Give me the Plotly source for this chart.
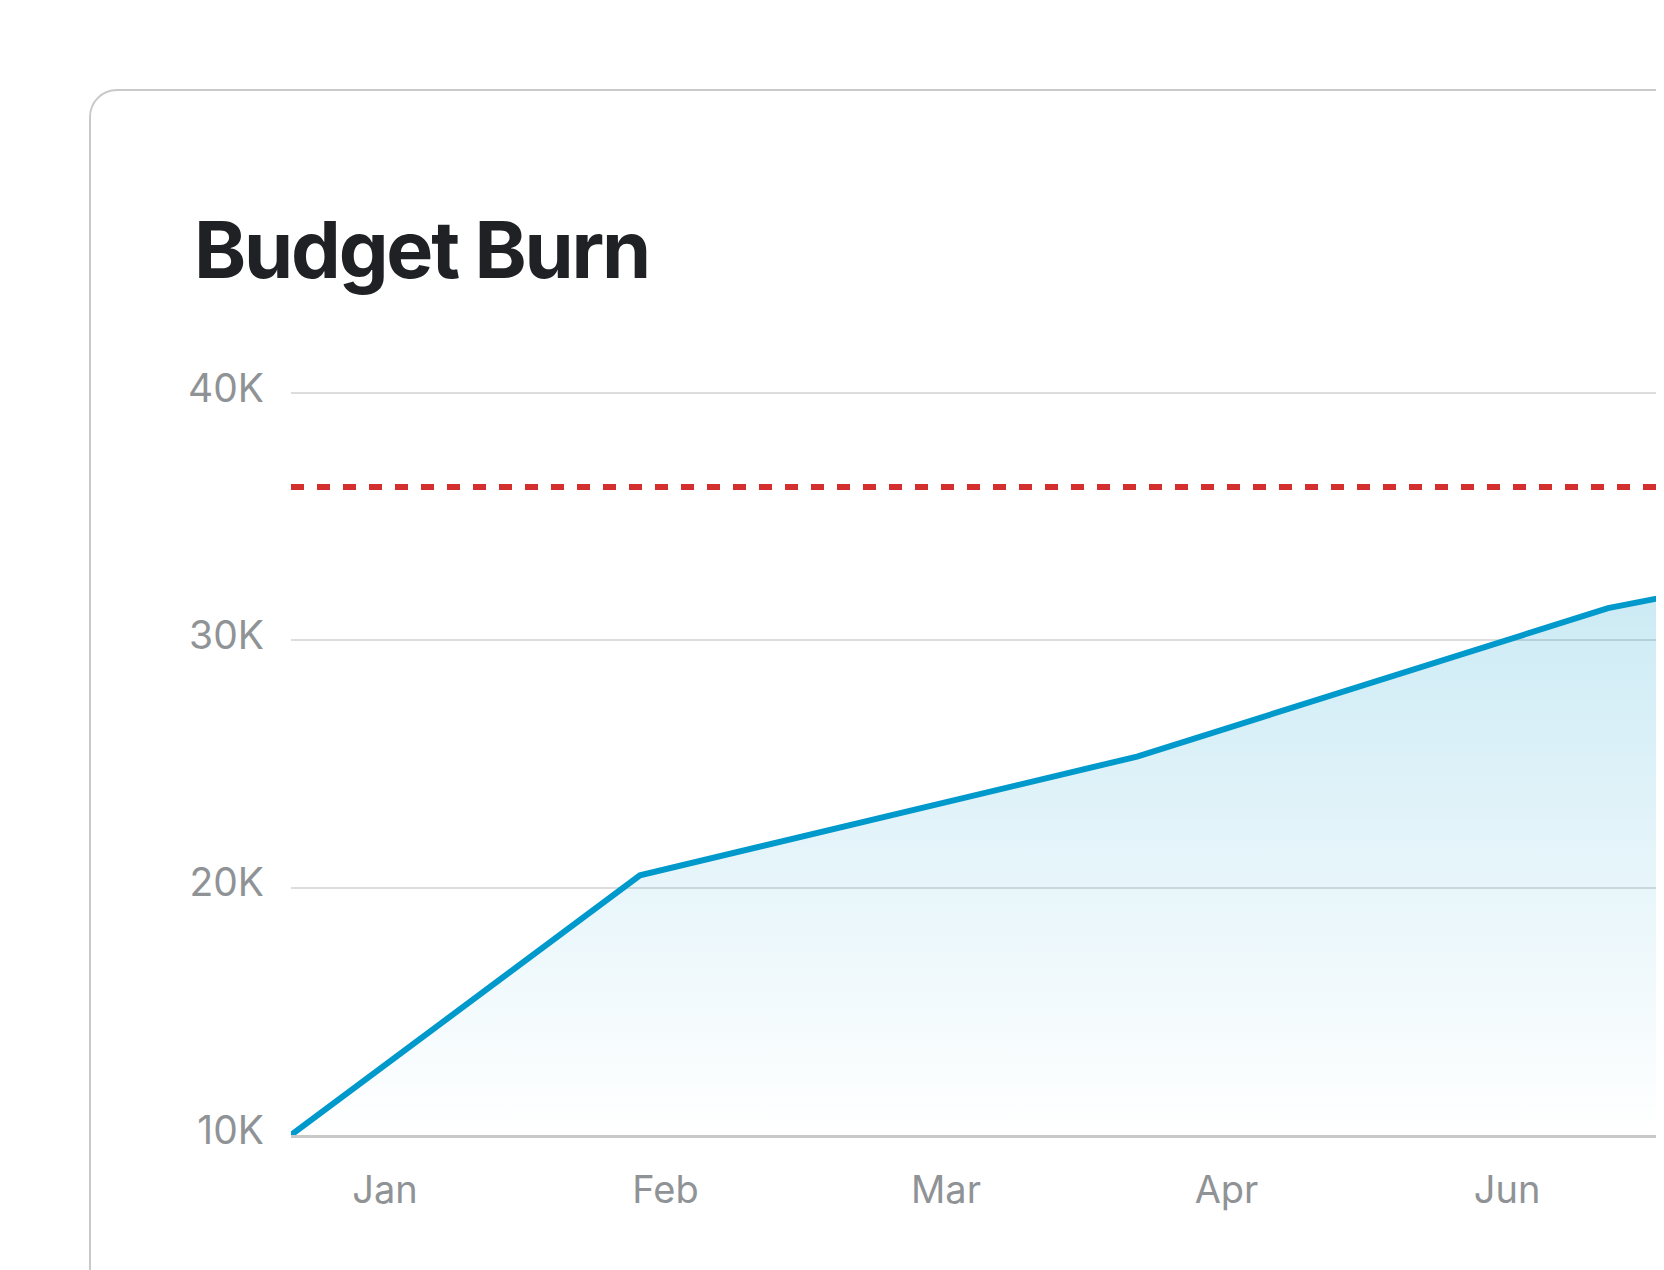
import plotly.graph_objects as go

# data
month_pos = [0, 1, 2, 3, 4]
month_labels = ["Jan", "Feb", "Mar", "Apr", "Jun"]
burn_x = [-0.335, 0.909, 2.681, 4.36, 4.9]
burn_y = [10000, 20500, 25300, 31300, 32500]
budget = 36200
y_ticks = [10000, 20000, 30000, 40000]
y_labels = ["10K", "20K", "30K", "40K"]

W, H = 1664, 1270
L, R, T, B = 283, 0, 382, 143
PW = W - L - R
PH = H - T - B
Y_TOP = 10000 + PH / 742 * 30000   # keeps 40K at the same pixel, grid line visible


def px_x(p):
    return (p - L) / PW


def px_y(p):
    return (H - B - p) / PH


fig = go.Figure()

fig.add_trace(go.Scatter(x=burn_x,
                         y=burn_y,
                         mode="lines",
                         line=dict(color="#0099cc", width=6),
                         fill="tozeroy",
                         fillgradient=dict(type="vertical",
                                           start=10000,
                                           stop=32000,
                                           colorscale=[[0, "rgba(0,153,204,0)"],
                                                       [1, "rgba(0,153,204,0.2)"]]),
                         hoverinfo="skip",
                         showlegend=False))

fig.add_hline(y=budget, line=dict(color="#d32f2f", width=6, dash="13px,13px"))

# card outline, rounded top-left corner, runs off the right and bottom
card = (f"M {px_x(82)},{px_y(1320)} L {px_x(82)},{px_y(109)} "
        f"C {px_x(82)},{px_y(94)} {px_x(94)},{px_y(82)} {px_x(109)},{px_y(82)} "
        f"L {px_x(1720)},{px_y(82)}")
fig.add_shape(type="path", path=card, xref="paper", yref="paper",
              line=dict(color="#c9c9c9", width=2), layer="below")

fig.add_annotation(text='<span style="letter-spacing:-2.2px">Budget Burn</span>',
                   xref="paper", yref="paper",
                   x=px_x(184), y=px_y(241), xanchor="left", yanchor="middle",
                   showarrow=False,
                   font=dict(family="Inter", size=79, color="#1f2124", weight=700))

fig.update_layout(width=W, height=H,
                  margin=dict(l=L, r=R, t=T, b=B, autoexpand=False),
                  paper_bgcolor="white",
                  plot_bgcolor="white",
                  font=dict(family="Inter", color="#909396"),
                  xaxis=dict(range=[-0.335, 4.588],
                             tickvals=month_pos,
                             ticktext=month_labels,
                             tickfont=dict(size=38, color="#909396"),
                             showgrid=False,
                             zeroline=False,
                             showline=True,
                             linecolor="#c8c8c8",
                             linewidth=3,
                             ticks="",
                             ticklabelstandoff=19),
                  yaxis=dict(range=[10000, Y_TOP],
                             tickvals=y_ticks,
                             ticktext=y_labels,
                             tickfont=dict(size=39, color="#909396"),
                             showgrid=True,
                             gridcolor="#dddddd",
                             gridwidth=2,
                             zeroline=False,
                             ticks="",
                             ticklabelstandoff=26,
                             ticklabelshift=-5))

fig.write_html("out.html")
